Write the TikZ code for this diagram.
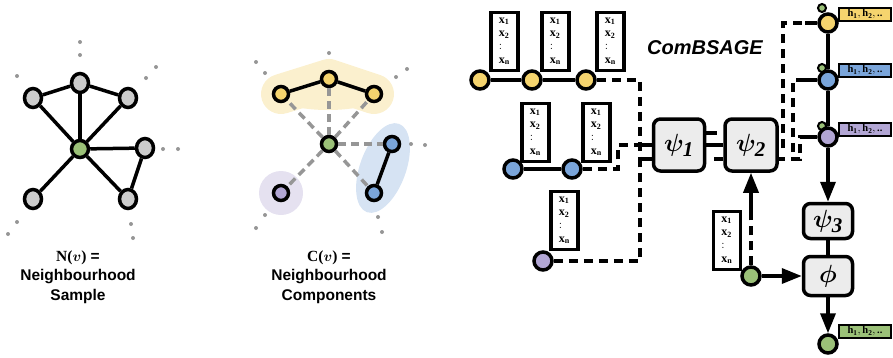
\documentclass[tikz,border=0pt]{standalone}
\usepackage{amsmath}
\usepackage{fontspec}
\setmainfont{Liberation Serif}
\setsansfont{Liberation Sans}
\usetikzlibrary{shapes.geometric,arrows.meta,backgrounds}

\definecolor{nodegrey}{RGB}{204,204,204}
\definecolor{ngreen}{RGB}{155,193,120}
\definecolor{nyellow}{RGB}{245,212,110}
\definecolor{nblue}{RGB}{122,165,218}
\definecolor{npurple}{RGB}{178,166,212}
\definecolor{lyellow}{RGB}{251,240,206}
\definecolor{lblue}{RGB}{214,227,243}
\definecolor{lpurple}{RGB}{229,225,240}
\definecolor{boxgrey}{RGB}{236,236,236}
\definecolor{spoke}{RGB}{150,150,150}

\newcommand{\xfeat}{$\mathbf{x_1}$\\$\mathbf{x_2}$\\$\mathbf{:}$\\$\mathbf{x_n}$}
\newcommand{\hfeat}{$\mathbf{h_1,h_2,}$\,\textbf{..}}

\tikzset{
  graphnode/.style={ellipse,draw,line width=3.5pt,inner sep=0pt,minimum width=17pt,minimum height=19pt,fill=nodegrey},
  vtx/.style={circle,draw,line width=3.5pt,inner sep=0pt,minimum size=#1},
  vtx/.default=18pt,
  nbedge/.style={line width=3.5pt},
  compedge/.style={line width=3.5pt,spoke,dash pattern=on 8pt off 5pt},
  feat/.style={draw,line width=3.5pt,fill=white,inner xsep=3pt,inner ysep=2pt,minimum width=27pt,minimum height=58pt,align=left,font=\fontsize{12}{13.3}\selectfont},
  outfeat/.style={draw,line width=2pt,inner sep=0pt,minimum width=52pt,minimum height=13pt,anchor=west,font=\fontsize{10.5}{11}\selectfont},
  fn/.style={draw,line width=3.5pt,rounded corners=7pt,fill=boxgrey,inner sep=0pt,font=\fontsize{30}{30}\selectfont},
  link/.style={line width=3.5pt,dash pattern=on 9pt off 6pt},
  wire/.style={line width=3.5pt},
  arr/.style={-{Triangle[length=20pt,width=15pt]}},
  caption/.style={align=center,font=\sffamily\bfseries\fontsize{15.5}{19.5}\selectfont}
}

\begin{document}
\begin{tikzpicture}[x=1pt,y=-1pt]
    \useasboundingbox (0,0) rectangle (893,357);

    % neighbourhood sample
    \foreach \p in {(80,42),(80,55),(17,76),(146,78),(156,67),(163,149),(178,149),(17,222),(8,234),(131,224),(133,238)}
        \fill[spoke] \p circle (2);
    \node[vtx=17pt,fill=ngreen] (Nc)  at (80,149) {};
    \node[graphnode] (Nt)  at (80,83)  {};
    \node[graphnode] (Ntl) at (33,98)  {};
    \node[graphnode] (Ntr) at (128,98) {};
    \node[graphnode] (Nr)  at (145,148) {};
    \node[graphnode] (Nbl) at (33,199) {};
    \node[graphnode] (Nbr) at (128,199) {};
    \foreach \t in {Nt,Ntl,Ntr,Nr,Nbl,Nbr}
        \draw[nbedge] (Nc) -- (\t);
    \draw[nbedge] (Ntl) -- (Nt) -- (Ntr);
    \draw[nbedge] (Nr) -- (Nbr);
    \node[caption] (Nlab) at (78,277) {{\rmfamily N(}$\boldsymbol{v}${\rmfamily )} =\\Neighbourhood\\Sample};

    % neighbourhood components
    \foreach \p in {(329,53),(256,62),(265,73),(396,77),(407,69),(411,144),(425,145),(265,215),(256,228),(378,217),(382,232)}
        \fill[spoke] \p circle (2);
    \node[vtx=15pt,fill=ngreen]  (Cc)  at (329,144) {};
    \node[vtx=15pt,fill=nyellow] (Cyt) at (329,79) {};
    \node[vtx=15pt,fill=nyellow] (Cyl) at (281,94) {};
    \node[vtx=15pt,fill=nyellow] (Cyr) at (374,94) {};
    \node[vtx=15pt,fill=nblue]   (Cbu) at (392,144) {};
    \node[vtx=15pt,fill=nblue]   (Cbl) at (374,193) {};
    \node[vtx=15pt,fill=npurple] (Cp)  at (281,193) {};
    \begin{pgfonlayer}{background}
        \draw[lyellow,line width=40pt,line cap=round,line join=round] (Cyl.center) -- (Cyt.center) -- (Cyr.center);
        \fill[lyellow] (328,90) ellipse [x radius=62,y radius=20];
        \fill[lblue,rotate around={70:(383,168)}] (383,168) ellipse [x radius=47,y radius=23];
        \fill[lpurple] (Cp.center) circle (22);
    \end{pgfonlayer}
    \foreach \t in {Cyt,Cyl,Cyr,Cbu,Cbl,Cp}
        \draw[compedge] (Cc) -- (\t);
    \draw[nbedge] (Cyl) -- (Cyt) -- (Cyr);
    \draw[nbedge] (Cbu) -- (Cbl);
    \node[caption] (Clab) at (329,277) {{\rmfamily C(}$\boldsymbol{v}${\rmfamily )} =\\Neighbourhood\\Components};

    % ComBSAGE
    \node[font=\sffamily\bfseries\itshape\fontsize{20}{24}\selectfont] (title) at (705,48) {ComBSAGE};

    \node[feat,anchor=south west] (f1) at (489,72)  {\xfeat};
    \node[feat,anchor=south west] (f2) at (540,72)  {\xfeat};
    \node[feat,anchor=south west] (f3) at (595,72)  {\xfeat};
    \node[feat,anchor=south west] (f4) at (520,163) {\xfeat};
    \node[feat,anchor=south west] (f5) at (581,163) {\xfeat};
    \node[feat,anchor=south west] (f6) at (549,251) {\xfeat};
    \node[feat,anchor=south east] (f7) at (742,271) {\xfeat};

    \node[vtx,fill=nyellow] (y1) at (480,80)  {};
    \node[vtx,fill=nyellow] (y2) at (532,80)  {};
    \node[vtx,fill=nyellow] (y3) at (586,80)  {};
    \node[vtx,fill=nblue]   (b1) at (513,169) {};
    \node[vtx,fill=nblue]   (b2) at (572,169) {};
    \node[vtx,fill=npurple] (p)  at (543,261) {};
    \node[vtx,fill=ngreen]  (g)  at (751,276) {};
    \draw[nbedge] (y1) -- (y2) -- (y3);
    \draw[nbedge] (b1) -- (b2);

    \node[fn,minimum width=51pt,minimum height=52pt] (psi1) at (679,145) {$\boldsymbol{\psi_{\mathit{1}}}$};
    \node[fn,minimum width=52pt,minimum height=52pt] (psi2) at (751,145) {$\boldsymbol{\psi_{\mathit{2}}}$};
    \node[fn,minimum width=49pt,minimum height=35pt] (psi3) at (828,221) {$\boldsymbol{\psi_{\mathit{3}}}$};
    \node[fn,minimum width=49pt,minimum height=39pt] (phi)  at (828,276) {$\boldsymbol{\phi}$};

    % inputs of psi1
    \coordinate (pa) at (640,145);
    \coordinate (pb) at (640,159);
    \coordinate (bk) at (618,169);
    \draw[wire] (pa) -- (pa -| psi1.west);
    \draw[wire] (pb) -- (pb -| psi1.west);
    \draw[link] (y3) -| (pb);
    \draw[link] (p) -| (pb);
    \draw[link] (b2) -- (bk) |- (pa);

    \draw[wire] (psi1) -- (psi2);
    \draw[wire] (psi1.east) ++(0,-12) -- ++(11,0);
    \draw[wire] (psi2.west) ++(0,14) -- ++(-9,0);

    \coordinate (gu) at (751,214);
    \draw[link] (g) -- (gu);
    \draw[wire,arr] (gu) -- (psi2);
    \draw[wire,arr] (g) -- (phi);

    % output column
    \node[vtx=8pt,line width=2pt,fill=ngreen] (ty) at (822,8)   {};
    \node[vtx=8pt,line width=2pt,fill=ngreen] (tb) at (822,68)  {};
    \node[vtx=8pt,line width=2pt,fill=ngreen] (tp) at (822,126) {};
    \node[vtx,fill=nyellow] (oy) at (828,23)  {};
    \node[vtx,fill=nblue]   (ob) at (828,80)  {};
    \node[vtx,fill=npurple] (op) at (828,137) {};
    \node[vtx,fill=ngreen]  (og) at (828,344) {};
    \node[outfeat,fill=nyellow] (hy) at (838,14)  {\hfeat};
    \node[outfeat,fill=nblue]   (hb) at (838,70)  {\hfeat};
    \node[outfeat,fill=npurple] (hp) at (838,129) {\hfeat};
    \node[outfeat,fill=ngreen]  (hg) at (838,331) {\hfeat};

    \draw[wire] (oy) -- (ob);
    \draw[wire] (ob) -- (op);
    \draw[wire,arr] (op) -- (psi3);
    \draw[wire] (psi3) -- (phi);
    \draw[wire,arr] (phi) -- (og);

    \coordinate (qo) at (785,159);
    \coordinate (qy) at (783,148);
    \coordinate (qb) at (793,152);
    \coordinate (qp) at (791,159);
    \coordinate (qc) at (800,159);
    \coordinate (jy) at (805,23);
    \coordinate (jb) at (805,80);
    \coordinate (jp) at (805,137);
    \draw[wire] (psi2.east |- qo) -- (qo);
    \draw[link] (qy) |- (jy);
    \draw[link] (qb) |- (jb);
    \draw[link] (qp) -- (qc) |- (jp);
    \draw[wire] (jy) -- (oy);
    \draw[wire] (jb) -- (ob);
    \draw[wire] (jp) -- (op);
\end{tikzpicture}
\end{document}
